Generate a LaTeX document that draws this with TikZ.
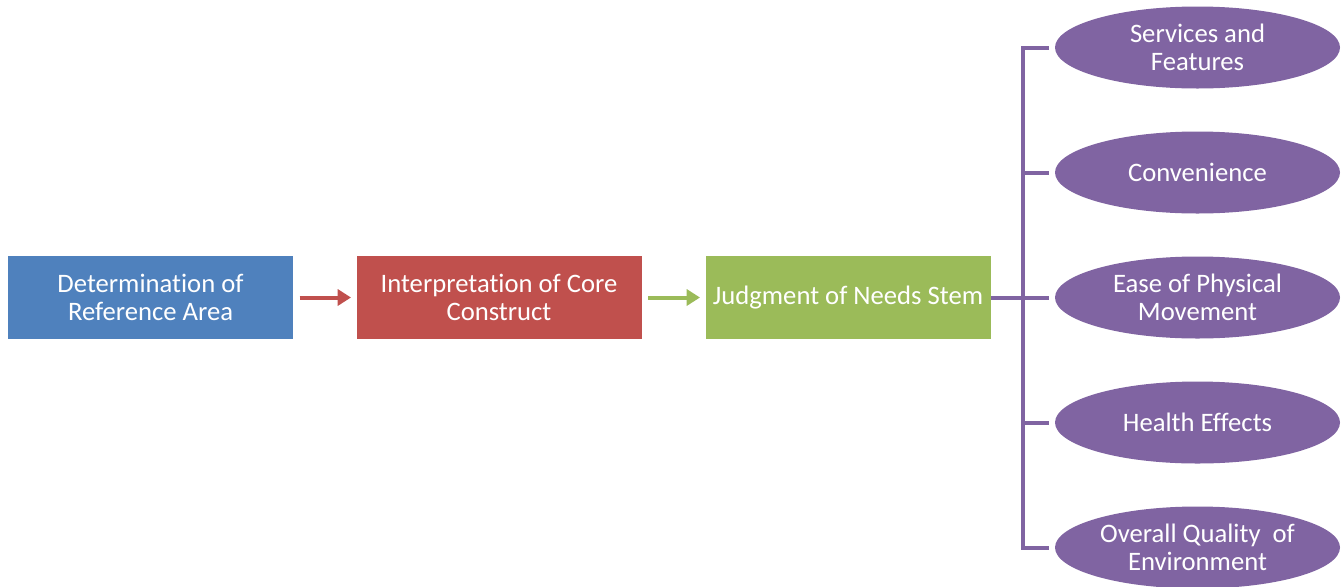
\documentclass[tikz,border=0pt]{standalone}
\usepackage{fontspec}
\setmainfont{Carlito}[Ligatures={NoCommon}]
\usetikzlibrary{shapes.geometric,arrows.meta}
\definecolor{stepblue}{RGB}{79,129,189}
\definecolor{stepred}{RGB}{192,80,77}
\definecolor{stepgreen}{RGB}{155,187,89}
\definecolor{needpurple}{RGB}{128,100,162}
\tikzset{every picture/.style={line width=0.75pt}}
\tikzset{
  stepbox/.style={rectangle, inner sep=0pt, minimum width=213.75pt, minimum height=62.25pt,
    text=white, align=center, font=\fontsize{20}{21}\selectfont},
  needoval/.style={ellipse, fill=needpurple, inner sep=0pt, minimum width=213.75pt,
    minimum height=61.5pt, text=white, align=center, font=\fontsize{20}{21}\selectfont},
  steparrow/.style={line width=3pt, -{Triangle[length=10pt,width=12pt]}, shorten <=4.5pt, shorten >=3.75pt}
}
\begin{document}
\begin{tikzpicture}[x=0.75pt,y=0.75pt,yscale=-1,xscale=1]
\useasboundingbox (0,0) rectangle (1341,586);

%Shape: Rectangle [id:reference]
\node[stepbox, fill=stepblue] (refarea) at (150.5,297.5) {Determination of\\Reference Area};
%Shape: Rectangle [id:construct]
\node[stepbox, fill=stepred] (core) at (499,297.5) {Interpretation of Core\\Construct};
%Shape: Rectangle [id:judgment]
\node[stepbox, fill=stepgreen] (needs) at (848,297.5) {Judgment of Needs Stem};

%Shape: Ellipse [id:services]
\node[needoval] (services) at (1197.5,47.5) {Services and\\Features};
%Shape: Ellipse [id:convenience]
\node[needoval] (conv) at (1197.5,172.5) {Convenience};
%Shape: Ellipse [id:movement]
\node[needoval] (move) at (1197.5,297.5) {Ease of Physical\\Movement};
%Shape: Ellipse [id:health]
\node[needoval] (health) at (1197.5,422.5) {Health Effects};
%Shape: Ellipse [id:quality]
\node[needoval] (quality) at (1197.5,547.5) {Overall Quality\ \ of\\Environment};

%Straight Lines [id:arrow1]
\draw[steparrow, stepred] (refarea) -- (core);
%Straight Lines [id:arrow2]
\draw[steparrow, stepgreen] (core) -- (needs);

%Bracket [id:spine]
\coordinate (spine) at (1022.5,297.5);
\draw[needpurple, line width=3pt] (needs.east) -- (spine);
\draw[needpurple, line width=3pt] ([xshift=-4pt]services.west) -- (spine |- services.west) -- (spine |- quality.west) -- ([xshift=-4pt]quality.west);
\foreach \n in {conv,move,health}
  \draw[needpurple, line width=3pt] (spine |- \n.west) -- ([xshift=-4pt]\n.west);

\end{tikzpicture}
\end{document}
